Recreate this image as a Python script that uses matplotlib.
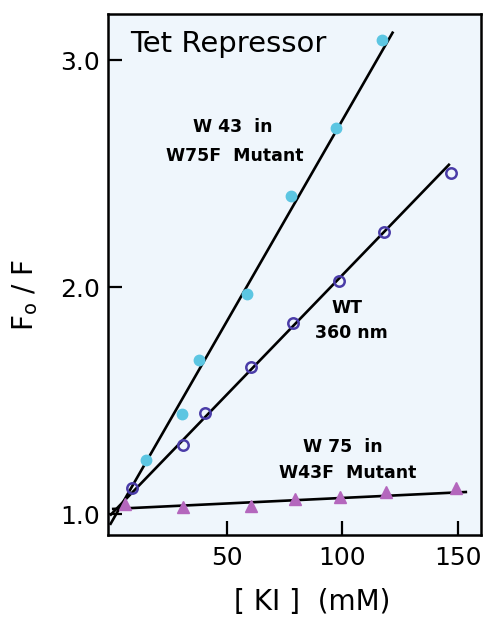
import numpy as np
import matplotlib
matplotlib.use('Agg')
import matplotlib.pyplot as plt

# W43 in W75F mutant (filled cyan circles)
w43_ki = [15, 30.5, 38, 58.7, 77.7, 97.2, 117]
w43_ratio = [1.24, 1.44, 1.68, 1.97, 2.40, 2.70, 3.09]

# wild type, 360 nm (open circles)
wt_ki = [8.9, 31, 40.5, 60.4, 78.6, 98.5, 118, 147]
wt_ratio = [1.115, 1.304, 1.445, 1.648, 1.841, 2.026, 2.242, 2.502]

# W75 in W43F mutant (triangles)
w75_ki = [5.8, 31, 60.4, 79.4, 98.9, 118.8, 149]
w75_ratio = [1.044, 1.031, 1.035, 1.066, 1.075, 1.097, 1.115]

# Stern-Volmer fit lines: (intercept, slope, x start, x end)
w43_fit = (0.9635, 0.01772, -0.65, 122)
wt_fit = (1.0, 0.01053, -0.65, 146.5)
w75_fit = (1.022, 0.000488, 0.2, 154)

x_ticks = [50, 100, 150]
y_ticks = [1.0, 2.0, 3.0]

cyan = '#5cc6e2'
purple = '#4a3ca8'
orchid = '#b467bd'

fig = plt.figure(figsize=(4.9, 6.18), dpi=100)
ax = fig.add_axes([0.2204, 0.1343, 0.7612, 0.843])
ax.set_facecolor('#eff6fc')

for b, m, x0, x1 in [w43_fit, wt_fit, w75_fit]:
    xs = np.array([x0, x1])
    ax.plot(xs, b + m * xs, color='black', lw=1.9, zorder=2, solid_capstyle='butt')

ax.plot(w43_ki, w43_ratio, 'o', color=cyan, ms=7.5, mec=cyan, zorder=3)
ax.plot(wt_ki, wt_ratio, 'o', mfc='none', mec=purple, mew=1.8, ms=7.5, zorder=3)
ax.plot(w75_ki, w75_ratio, '^', color=orchid, ms=8, zorder=3)

ax.set_xlim(-1.5, 160)
ax.set_ylim(0.9075, 3.2026)
ax.set_xticks(x_ticks)
ax.set_yticks(y_ticks)
ax.set_yticklabels(['1.0', '2.0', '3.0'])
ax.tick_params(direction='in', length=10, width=1.6, labelsize=18, pad=6)
ax.tick_params(axis='x', pad=8)
for s in ax.spines.values():
    s.set_linewidth(1.8)

ax.text(8.0, 3.035, 'Tet Repressor', fontsize=21, ha='left', va='baseline')

note = dict(fontsize=12.5, fontweight='bold', ha='center', va='center')
ax.text(52.6, 2.705, 'W 43  in', **note)
ax.text(53.5, 2.577, 'W75F  Mutant', **note)
ax.text(102, 1.907, 'WT', **note)
ax.text(104, 1.797, '360 nm', **note)
ax.text(100.2, 1.295, 'W 75  in', **note)
ax.text(102.4, 1.181, 'W43F  Mutant', **note)

fig.text(312 / 490, 1 - 602 / 618, '[ KI ]  (mM)', fontsize=20, ha='center', va='center')
fig.text(25 / 490, 1 - 295 / 618, r'F$_\mathregular{o}$ / F', fontsize=20,
         rotation=90, ha='center', va='center')

fig.savefig('out.png', dpi=100)
